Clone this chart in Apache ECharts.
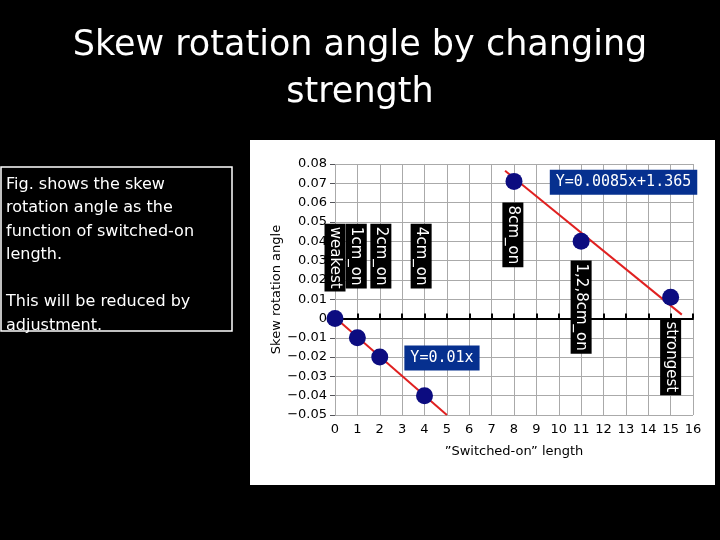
<!DOCTYPE html><html><head><meta charset="utf-8"><script src="https://cdn.jsdelivr.net/npm/echarts@6/dist/echarts.min.js"></script>
<style>body{margin:0;background:#000}#c{width:720px;height:540px}</style></head><body><div id="c"></div><script>
const points=[[0,0],[1,-0.01],[2,-0.02],[4,-0.04],[8,0.071],[11,0.04],[15,0.011]];
const fitLine1=[[0,0.0005],[5,-0.05]];
const fitLine2=[[7.6,0.0765],[15.5,0.002]];
const tagLabels=[["weakest",0,0.049],["1cm_on",0.95,0.049],["2cm_on",2.05,0.049],["4cm_on",3.85,0.049],["8cm_on",7.95,0.06],["1,2,8cm_on",11,0.03],["strongest",15,0.0]];
const eqLabels=[["Y=0.0085x+1.365",9.6,0.0705],["Y=0.01x",3.1,-0.0205]];
const chart=echarts.init(document.getElementById('c'));
const lbl={color:'#fff',backgroundColor:'#000',fontFamily:'DejaVu Sans',fontSize:15,padding:[3,3]};
chart.setOption({backgroundColor:'#000',
graphic:[{type:'rect',shape:{x:250,y:140,width:465,height:345},style:{fill:'#fff'},z:-10},
{type:'rect',shape:{x:1,y:167,width:231,height:164},style:{fill:'#000',stroke:'#fff',lineWidth:1.5}},
{type:'text',left:6,top:173,style:{text:'Fig. shows the skew\nrotation angle as the\nfunction of switched-on\nlength.\n\nThis will be reduced by\nadjustment.',fill:'#fff',font:'16px "DejaVu Sans"',lineHeight:23.5}},
{type:'text',x:360,y:22,style:{text:'Skew rotation angle by changing\nstrength',fill:'#fff',font:'35px "DejaVu Sans"',lineHeight:47,textAlign:'center'}}],
grid:{left:335,right:27,top:164,bottom:125},
xAxis:{type:'value',min:0,max:16,interval:1,name:'\u201dSwitched-on\u201d length',nameLocation:'middle',nameGap:30,nameTextStyle:{color:'#000',fontSize:13,fontFamily:'DejaVu Sans'},
 axisLine:{onZero:true,lineStyle:{color:'#000',width:2}},axisTick:{show:true,inside:true,length:5,lineStyle:{color:'#000',width:2}},
 axisLabel:{color:'#000',fontSize:13,fontFamily:'DejaVu Sans',margin:8},splitLine:{lineStyle:{color:'#aaa'}}},
yAxis:{type:'value',min:-0.05,max:0.08,interval:0.01,name:'Skew rotation angle',nameLocation:'middle',nameGap:50,nameTextStyle:{color:'#000',fontSize:13,fontFamily:'DejaVu Sans'},
 axisLine:{show:false},axisLabel:{color:'#000',fontSize:13,fontFamily:'DejaVu Sans',formatter:v=>{v=Math.round(v*100)/100;return v<0?'\u2212'+(-v):String(v);}},splitLine:{lineStyle:{color:'#aaa'}}},
series:[
{type:'line',data:fitLine1,symbol:'none',lineStyle:{color:'#e02020',width:2},z:3},
{type:'line',data:fitLine2,symbol:'none',lineStyle:{color:'#e02020',width:2},z:3},
{type:'scatter',data:points,symbolSize:17,itemStyle:{color:'#0c0c80',opacity:1},z:4},
{type:'scatter',data:tagLabels.map(d=>({value:[d[1],d[2]],name:d[0]})),symbolSize:0,z:5,itemStyle:{opacity:1},
 label:{show:true,formatter:p=>p.name,rotate:-90,position:'inside',align:'left',verticalAlign:'middle',...lbl}},
{type:'scatter',data:eqLabels.map(d=>({value:[d[1],d[2]],name:d[0]})),symbolSize:0,z:5,itemStyle:{opacity:1},
 label:{show:true,formatter:p=>p.name,position:'inside',align:'left',verticalAlign:'middle',color:'#fff',backgroundColor:'#06308f',fontFamily:'DejaVu Sans Mono',fontSize:15,padding:[5,6,5,6]}}
]});
</script></body></html>
